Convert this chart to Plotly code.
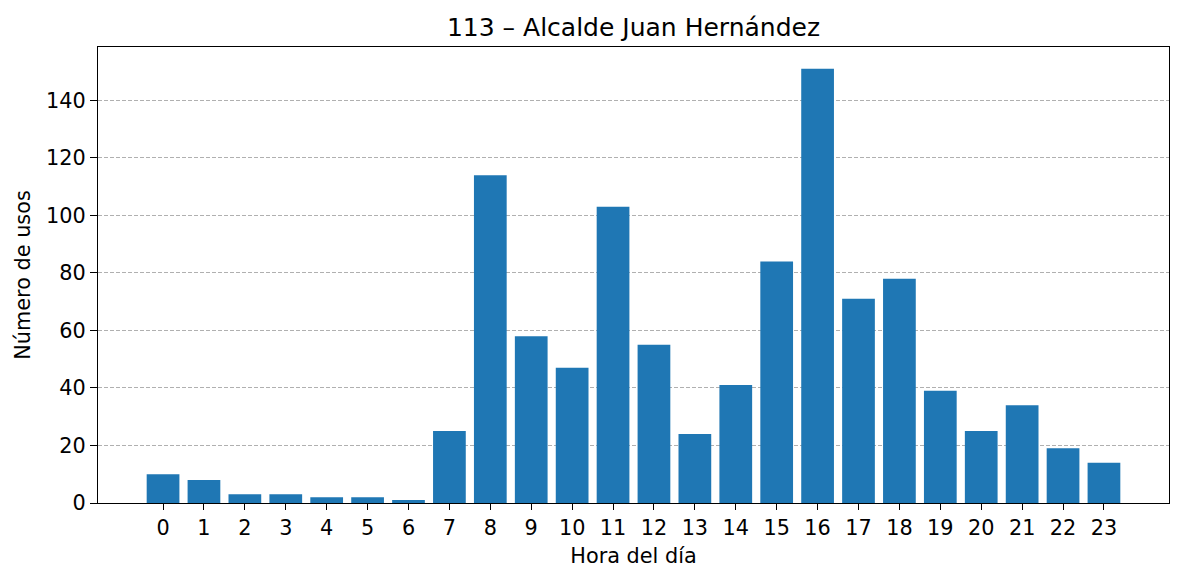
import plotly.graph_objects as go

hours = list(range(24))
usos = [10, 8, 3, 3, 2, 2, 1, 25, 114, 58, 47, 103, 55, 24, 41, 84, 151, 71, 78, 39, 25, 34, 19, 14]
title = "113 – Alcalde Juan Hernández"
xlabel = "Hora del día"
ylabel = "Número de usos"

fig = go.Figure(go.Bar(x=hours, y=usos, marker=dict(color="#1f77b4", line=dict(width=0)), width=0.8))

fig.update_layout(
    width=1184, height=581,
    margin=dict(l=98, r=15, t=47, b=78),
    paper_bgcolor="white", plot_bgcolor="white",
    font=dict(family="DejaVu Sans", size=20.8, color="black"),
    title=dict(text=title, x=(98 + 1169) / 2 / 1184, xanchor="center", y=1 - 27 / 581, yanchor="middle",
               font=dict(size=25)),
    showlegend=False,
    bargap=0.2,
)
fig.update_xaxes(
    range=[-1.59, 24.59], tickmode="array", tickvals=hours, ticktext=[str(h) for h in hours],
    showgrid=False, zeroline=False, showline=True, linecolor="black", linewidth=1.4, mirror=True,
    ticks="outside", ticklen=6, tickwidth=1.4, tickcolor="black",
    tickfont=dict(size=20.8),
    title=dict(text=xlabel, font=dict(size=20.8), standoff=9),
)
fig.update_yaxes(
    range=[0, 158.55], tickmode="array", tickvals=[0, 20, 40, 60, 80, 100, 120, 140],
    showgrid=True, gridcolor="#b0b0b0", griddash="4px,2px", gridwidth=0.8, zeroline=False,
    showline=True, linecolor="black", linewidth=1.4, mirror=True,
    ticks="outside", ticklen=7, tickwidth=1.4, tickcolor="black",
    tickfont=dict(size=20.8),
    title=dict(text=ylabel, font=dict(size=20.8), standoff=9),
)

fig.write_html("out.html")
